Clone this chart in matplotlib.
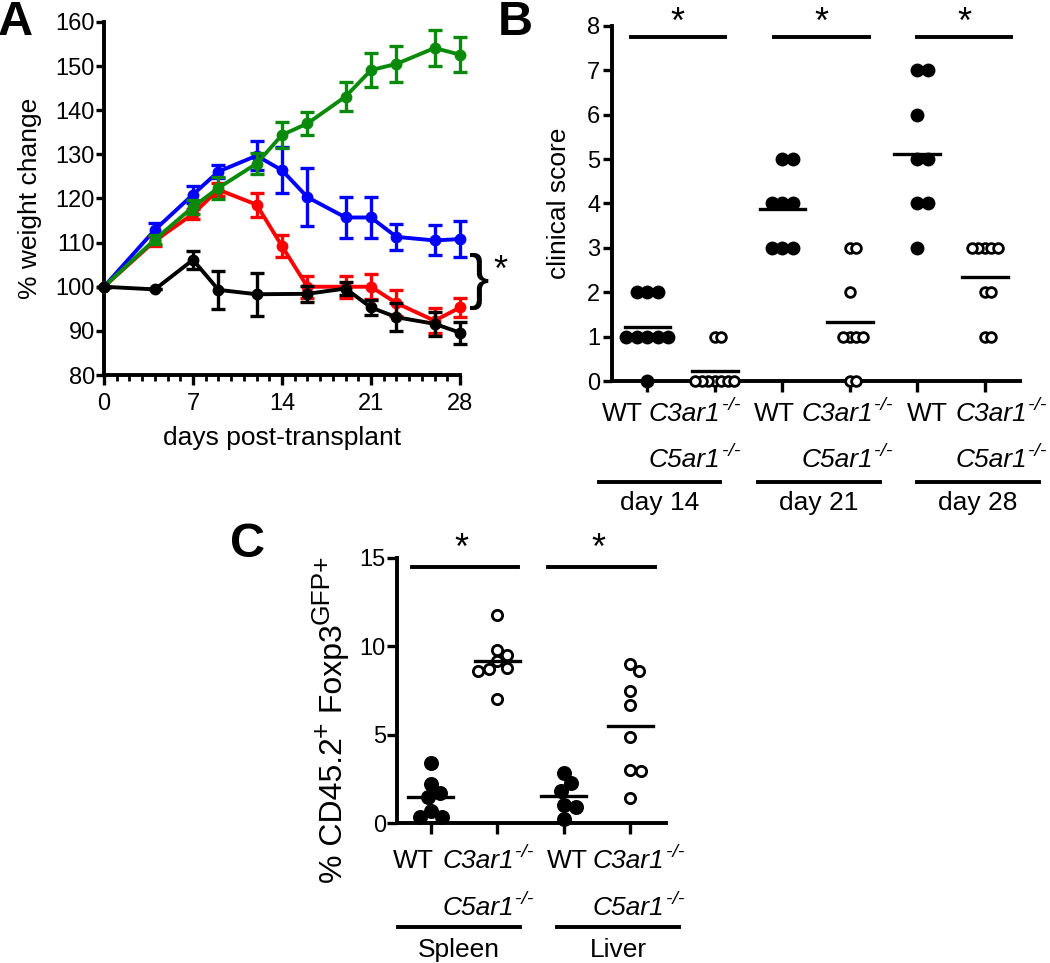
import numpy as np
import matplotlib
matplotlib.use("Agg")
import matplotlib.pyplot as plt
from matplotlib import transforms

plt.rcParams['font.family'] = ['Liberation Sans', 'DejaVu Sans']

# ---- panel A: % weight change ----
days = [0, 4, 7, 9, 12, 14, 16, 19, 21, 23, 26, 28]
blue = [100, 112.9, 120.9, 126.1, 129.7, 126.4, 120.3, 115.7, 115.7, 111.3, 110.5, 110.8]
blue_err = [0, 1.5, 2.0, 1.5, 3.3, 5.2, 6.5, 4.7, 4.6, 3.0, 3.4, 4.1]
red = [100, 110.4, 116.5, 122.0, 118.6, 109.2, 100.0, 100.0, 100.0, 96.3, 92.3, 95.3]
red_err = [0, 1.2, 1.2, 1.5, 2.7, 2.5, 2.5, 2.5, 2.8, 3.0, 2.8, 2.2]
green = [100, 110.7, 118.1, 122.4, 127.9, 134.4, 137.0, 143.1, 149.1, 150.5, 154.1, 152.6]
green_err = [0, 1.0, 1.5, 2.5, 2.3, 3.0, 2.5, 3.2, 3.9, 4.1, 4.1, 4.0]
days_k = [0, 4, 7, 9, 12, 16, 19, 21, 23, 26, 28]
black = [100, 99.4, 106.1, 99.3, 98.3, 98.4, 99.6, 95.3, 93.1, 91.6, 89.6]
black_err = [0, 0, 2.0, 4.3, 4.9, 1.8, 1.4, 1.8, 3.2, 2.7, 2.5]

# ---- panel B: clinical score ----
wt14 = [2, 2, 2, 1, 1, 1, 1, 1, 0]
ko14 = [1, 1, 0, 0, 0, 0, 0, 0, 0]
wt21 = [5, 5, 4, 4, 4, 3, 3, 3]
ko21 = [3, 3, 2, 1, 1, 1, 1, 0, 0]
wt28 = [7, 7, 6, 5, 5, 4, 4, 3]
ko28 = [3, 3, 3, 3, 3, 2, 2, 1, 1]
b_groups = ["day 14", "day 21", "day 28"]

# ---- panel C: % CD45.2+ Foxp3 GFP+ ----
spl_wt = [3.4, 2.2, 1.7, 1.45, 0.7, 0.35, 0.35]
spl_ko = [11.8, 9.8, 9.5, 9.15, 8.8, 8.7, 8.6, 7.0]
liv_wt = [2.85, 2.25, 1.8, 1.0, 0.9, 0.25]
liv_ko = [9.0, 8.6, 7.45, 6.7, 4.87, 3.0, 2.96, 1.4]
c_groups = ["Spleen", "Liver"]

FS = 19

W, H = 1050, 963
fig = plt.figure(figsize=(W / 100, H / 100), dpi=100)


def rect(l, r, t, b):
    return [l / W, 1 - b / H, (r - l) / W, (b - t) / H]


def style(ax, lw=2.8):
    for s in ['top', 'right']:
        ax.spines[s].set_visible(False)
    for s in ['left', 'bottom']:
        ax.spines[s].set_linewidth(lw)


def swarm(ax, xc, vals, gap):
    # simple beeswarm in pixel space
    pts = ax.transData.transform([(xc, v) for v in vals])
    placed = []
    for px, py in pts:
        best = 0
        for k in range(0, 400):
            cands = [0.0] if k == 0 else [k * 0.5, -k * 0.5]
            hit = None
            for s in cands:
                if all((px + s - qx) ** 2 + (py - qy) ** 2 >= gap ** 2 for qx, qy in placed):
                    hit = s
                    break
            if hit is not None:
                best = hit
                break
        placed.append((px + best, py))
    return ax.transData.inverted().transform(placed)[:, 0]


def dots(ax, xc, vals, filled, gap, ms, mew):
    xs = swarm(ax, xc, vals, gap)
    if filled:
        ax.plot(xs, vals, 'o', color='black', ms=ms, mew=0, clip_on=False, zorder=3)
    else:
        ax.plot(xs, vals, 'o', mfc='white', mec='black', ms=ms, mew=mew, clip_on=False, zorder=3)
    m = np.mean(vals)
    ax.plot([xc - 0.34, xc + 0.34], [m, m], color='black', lw=2.4, zorder=4, clip_on=False)


def below(ax, x, px, text, ha='left', italic=False):
    return ax.annotate(text, xy=(x, 0), xycoords=('data', 'axes fraction'),
                       xytext=(0, -px * 0.72), textcoords='offset points',
                       ha=ha, va='baseline', fontsize=FS, annotation_clip=False,
                       style='italic' if italic else 'normal')


def gene(ax, x, px, name):
    t = below(ax, x, px, name, italic=True)
    ax.annotate('-/-', xy=(1.02, 0.86), xycoords=t, ha='left', va='center',
                fontsize=14, style='italic', annotation_clip=False)


def group_line(ax, x0, x1, px):
    tr = transforms.blended_transform_factory(ax.transData, ax.transAxes)
    y = -px / ax.bbox.height
    ax.plot([x0, x1], [y, y], color='black', lw=2.8, transform=tr, clip_on=False)


# ================= A =================
axA = fig.add_axes(rect(104, 460, 22, 375))
style(axA)
series = [(days, blue, blue_err, '#0000ff'),
          (days, red, red_err, '#ff0000'),
          (days, green, green_err, '#0a8a0a'),
          (days_k, black, black_err, 'black')]
for i, (x, y, e, c) in enumerate(series):
    eb = axA.errorbar(x, y, yerr=e, color=c, marker='o', ms=7.5, lw=2.8,
                      elinewidth=2.4, capsize=5, capthick=2.4, zorder=3 + i)
    for art in [eb[0]] + list(eb[1]) + list(eb[2]):
        art.set_clip_on(False)
axA.set_xlim(0, 28)
axA.set_ylim(80, 160)
axA.set_xticks([0, 7, 14, 21, 28])
axA.set_xticks(np.arange(0, 29), minor=True)
axA.set_yticks(np.arange(80, 161, 10))
axA.tick_params(axis='x', which='major', length=7, width=2.4, labelsize=17, pad=6)
axA.tick_params(axis='x', which='minor', length=4.5, width=2.0)
axA.tick_params(axis='y', length=5.5, width=2.4, labelsize=17, pad=1)
axA.set_xlabel('days post-transplant', fontsize=FS)
axA.xaxis.set_label_coords(0.5, -(426 - 375) / 353)
axA.set_ylabel('% weight change', fontsize=FS)
axA.yaxis.set_label_coords((42 - 104) / 356, 0.5)
axA.text(29.5, 101.2, '}', fontsize=44, ha='center', va='center', clip_on=False)
axA.text(31.2, 103.5, '*', fontsize=26, ha='center', va='center', clip_on=False)
fig.text(-2 / W, 1 - 0 / H, 'A', fontsize=35, fontweight='bold', va='top', ha='left')

# ================= B =================
axB = fig.add_axes(rect(612, 1020, 26, 381))
style(axB)
axB.set_xlim(-0.526, 5.52)
axB.set_ylim(0, 8)
axB.set_yticks(range(0, 9))
axB.set_xticks(range(6))
axB.set_xticklabels([])
axB.tick_params(axis='x', length=8, width=2.4)
axB.tick_params(axis='y', length=6.5, width=2.4, labelsize=17, pad=2)
b_sets = [wt14, ko14, wt21, ko21, wt28, ko28]
for i, vals in enumerate(b_sets):
    if i % 2 == 0:
        dots(axB, i, vals, True, 10.5, 10, 0)
    else:
        dots(axB, i, vals, False, 6.2, 7.0, 2.0)
wt_left = [-0.68, 1.58, 3.84]
ko_left = [0.02, 2.28, 4.56]
grp_mid = [0.18, 2.54, 4.90]
sig_mid = [0.45, 2.58, 4.69]
for g in range(3):
    below(axB, wt_left[g], 40, 'WT')
    gene(axB, ko_left[g], 40, 'C3ar1')
    gene(axB, ko_left[g], 86, 'C5ar1')
    group_line(axB, grp_mid[g] - 0.9, grp_mid[g] + 0.9, 101)
    below(axB, grp_mid[g], 129, b_groups[g], ha='center')
    axB.plot([sig_mid[g] - 0.7, sig_mid[g] + 0.7], [7.76, 7.76], color='black', lw=2.8, clip_on=False)
    axB.text(sig_mid[g], 8.05, '*', fontsize=26, ha='center', va='center', clip_on=False)
axB.set_ylabel('clinical score', fontsize=FS)
axB.yaxis.set_label_coords((571 - 612) / 408, 0.5)
fig.text(498 / W, 1 - 0 / H, 'B', fontsize=35, fontweight='bold', va='top', ha='left')

# ================= C =================
axC = fig.add_axes(rect(397, 666, 558, 823))
style(axC)
axC.set_xlim(-0.51, 3.54)
axC.set_ylim(0, 15)
axC.set_yticks([0, 5, 10, 15])
axC.set_xticks(range(4))
axC.set_xticklabels([])
axC.tick_params(axis='x', length=8, width=2.4)
axC.tick_params(axis='y', length=7, width=2.4, labelsize=17, pad=1)
c_sets = [spl_wt, spl_ko, liv_wt, liv_ko]
for i, vals in enumerate(c_sets):
    if i % 2 == 0:
        dots(axC, i, vals, True, 12.5, 10.8, 0)
    else:
        dots(axC, i, vals, False, 11.0, 7.4, 2.0)
cwt_left = [-0.57, 1.75]
cko_left = [0.17, 2.44]
cgrp_mid = [0.42, 2.82]
csig_mid = [0.515, 2.57]
for g in range(2):
    below(axC, cwt_left[g], 45, 'WT')
    gene(axC, cko_left[g], 45, 'C3ar1')
    gene(axC, cko_left[g], 92, 'C5ar1')
    group_line(axC, cgrp_mid[g] - 0.92, cgrp_mid[g] + 0.92, 104)
    below(axC, cgrp_mid[g], 134, c_groups[g], ha='center')
    axC.plot([csig_mid[g] - 0.8, csig_mid[g] + 0.8], [14.5, 14.5], color='black', lw=2.8, clip_on=False)
    axC.text(csig_mid[g] - 0.05, 15.5, '*', fontsize=26, ha='center', va='center', clip_on=False)

# y label of C built from pieces so the superscripts keep a large size
main_fs, sup_fs = 23, 19
p1 = fig.text(349 / W, 1 - 883 / H, '% CD45.2', rotation=90, ha='right', va='bottom', fontsize=main_fs)
p2 = axC.annotate('+', xy=(0.5, 1.0), xycoords=p1, rotation=90, ha='right', va='bottom',
                  fontsize=sup_fs, annotation_clip=False)
p3 = axC.annotate(' Foxp3', xy=(1.0, 1.0), xycoords=(p1, p2), rotation=90, ha='right', va='bottom',
                  fontsize=main_fs, annotation_clip=False)
p4 = axC.annotate('GFP+', xy=(0.5, 1.0), xycoords=(p1, p3), rotation=90, ha='right', va='bottom',
                  fontsize=sup_fs, annotation_clip=False)
fig.text(230 / W, 1 - 522 / H, 'C', fontsize=35, fontweight='bold', va='top', ha='left')

fig.savefig('out.png', dpi=100)
